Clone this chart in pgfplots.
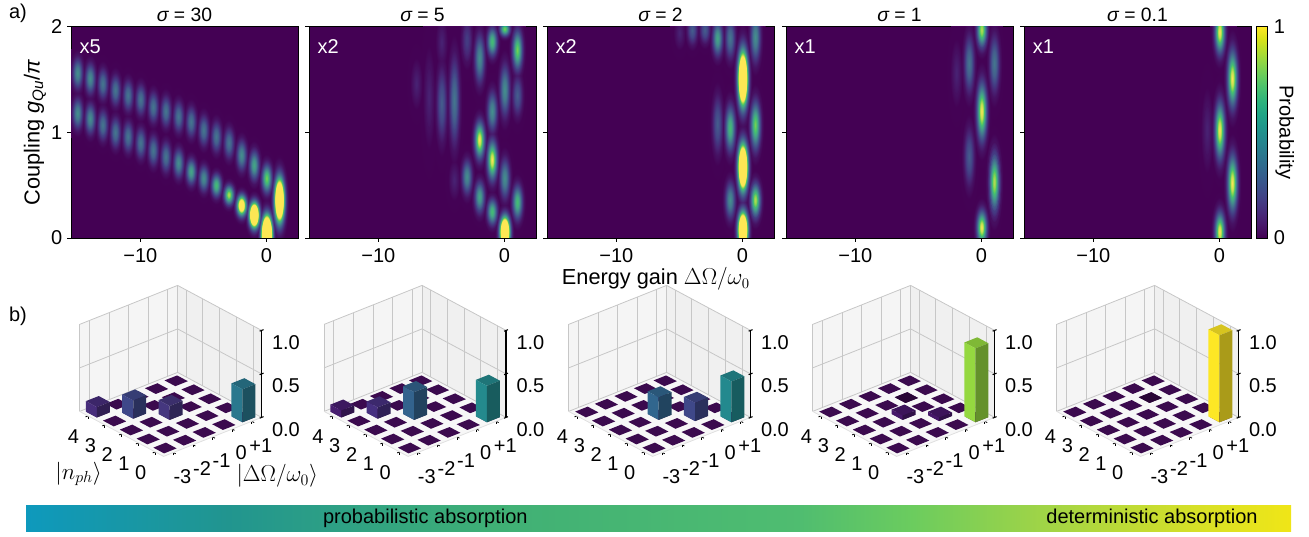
\documentclass[border=0pt]{standalone}
\usepackage{fontspec}
\setmainfont{Liberation Sans}
\usepackage{pgfplots}
\pgfplotsset{compat=1.18}
\newcommand\fs{\fontsize{15pt}{17pt}\selectfont}
\newcommand\fst{\fontsize{14.5pt}{17pt}\selectfont}
\newcommand\fsl{\fontsize{16.3pt}{18pt}\selectfont}
\newcommand\fsm{\fontsize{18pt}{20pt}\selectfont}
\definecolor{vbg}{rgb}{.267,.005,.329}
\definecolor{tile}{HTML}{3B0A4E}
\definecolor{tiled}{HTML}{290636}
% Viridis Gaussian blob shadings, one per amplitude level
\newcommand\makeblob[2]{%
  \pgfmathsetmacro\A{#2}%
  \pgfmathsetmacro\Ap{#2+0.001}%
  \ifdim\A pt>1pt \gdef\spec{rgb(0bp)=(.993,.906,.144);}\else\gdef\spec{}\fi
  \foreach \t/\c in {1.0/{.993,.906,.144},.9/{.741,.873,.150},.8/{.478,.821,.318},.7/{.267,.749,.441},.6/{.135,.659,.518},.5/{.128,.567,.551},.4/{.164,.471,.558},.3/{.207,.372,.553},.2/{.254,.265,.530},.1/{.283,.141,.458},.05/{.275,.070,.390},.012/{.267,.010,.335}}{%
    \ifdim\t pt<\Ap pt
      \pgfmathsetmacro\r{20*sqrt(abs(ln(\A/\t)))}%
      \xdef\spec{\spec rgb(\r bp)=(\c);}%
    \fi}%
  \edef\tmp{\noexpand\pgfdeclareradialshading{blob#1}{\noexpand\pgfpointorigin}{\spec rgb(50bp)=(.267,.005,.329)}}\tmp}
\makeblob{10}{.1}\makeblob{20}{.2}\makeblob{30}{.3}\makeblob{40}{.4}\makeblob{50}{.5}
\makeblob{60}{.6}\makeblob{70}{.7}\makeblob{80}{.8}\makeblob{90}{.9}\makeblob{100}{1}
\makeblob{150}{1.5}\makeblob{250}{2.5}\makeblob{400}{4}
\pgfdeclareplotmark{blob}{%
  \pgfscope
  \pgfmathsetmacro\cl{(-15.5-\blobx)*9.458}%
  \pgfmathsetmacro\cr{(2.5-\blobx)*9.458}%
  \pgfmathsetmacro\cb{(0-\bloby)*79.25}%
  \pgfmathsetmacro\ct{(2-\bloby)*79.25}%
  \pgfpathrectanglecorners{\pgfpoint{\cl pt}{\cb pt}}{\pgfpoint{\cr pt}{\ct pt}}%
  \pgfusepath{clip}%
  \pgfsetblendmode{lighten}%
  \pgfmathsetmacro\ys{\blobw*4.35}%
  \pgftransformxscale{.157}\pgftransformyscale{\ys}%
  \pgflowlevelsynccm
  \pgfuseshading{blob\bloba}%
  \endpgfscope}
\pgfdeclarehorizontalshading{absbar}{100bp}{rgb(0bp)=(.055,.60,.74);rgb(25bp)=(.055,.60,.74);rgb(33bp)=(.13,.585,.56);rgb(43.5bp)=(.25,.69,.46);rgb(55.5bp)=(.31,.74,.44);rgb(60bp)=(.42,.80,.37);rgb(65bp)=(.62,.83,.28);rgb(71.5bp)=(.85,.88,.15);rgb(75bp)=(.94,.90,.09);rgb(100bp)=(.94,.90,.09)}
\pgfplotsset{
  heat/.style={scale only axis,width=170.25pt,height=158.5pt,xmin=-15.5,xmax=2.5,ymin=0,ymax=2,
    xtick={-10,0},xticklabels={−10,0},ytick={0,1,2},yticklabels={},
    tick align=outside,xtick pos=bottom,ytick pos=left,major tick length=3pt,
    axis background/.style={fill=vbg},axis on top,
    tick style={black,line width=.7pt},axis line style={line width=.7pt},
    title style={yshift=-5.5pt},xticklabel style={yshift=-1pt},
    every tick label/.append style={font=\fs},
    label style={font=\fsl},title style={font=\fst},
    point meta min=0,point meta max=1},
  blobs/.style={scatter,only marks,mark=blob,
    visualization depends on={value \thisrow{a}\as\bloba},
    visualization depends on={value \thisrow{w}\as\blobw},
    visualization depends on={value \thisrow{x}\as\blobx},
    visualization depends on={value \thisrow{y}\as\bloby}},
  bars/.style={scale only axis,disabledatascaling,anchor=origin,clip=false,
    x={(14.7pt,5.85pt)},y={(-12.6pt,6.75pt)},z={(0pt,65.25pt)},
    xmin=-.5,xmax=4.5,ymin=-.5,ymax=4.5,zmin=0,zmax=1,
    xtick={0,...,4},ytick={0,...,4},ztick={0,.5,1},
    xticklabels={-3,-2,-1,0,+1},yticklabels={0,1,2,3,4},zticklabels={0.0,0.5,1.0},
    axis line style={draw=none},tick align=outside,major tick length=2pt,
    tick style={black,line width=.6pt},
    every z tick/.append style={draw=none},
    xtick pos=left,ytick pos=left,zticklabel pos=right,
    every tick label/.append style={font=\fs},
    xticklabel style={anchor=center,xshift=5pt,yshift=-17pt},
    yticklabel style={anchor=center,xshift=-9pt,yshift=-15pt},
    zticklabel style={anchor=center,xshift=16.5pt,yshift=-8pt}}}
\newcommand\tile[3]{%
  \pgfmathsetmacro\ea{#1-.32}\pgfmathsetmacro\eb{#1+.32}%
  \pgfmathsetmacro\na{#2-.32}\pgfmathsetmacro\nb{#2+.32}%
  \edef\tmp{\noexpand\addplot3[fill=#3,draw=none] coordinates {(\ea,\na,0)(\eb,\na,0)(\eb,\nb,0)(\ea,\nb,0)};}\tmp}
\newcommand\wallgrid{%
  \addplot3[fill=black!3,draw=none] coordinates {(-.5,-.5,0)(4.5,-.5,0)(4.5,4.5,0)(-.5,4.5,0)};
  \addplot3[fill=black!4,draw=none] coordinates {(-.5,4.5,0)(4.5,4.5,0)(4.5,4.5,1)(-.5,4.5,1)};
  \addplot3[fill=black!6,draw=none] coordinates {(4.5,4.5,0)(4.5,-.5,0)(4.5,-.5,1)(4.5,4.5,1)};
  \pgfplotsforeachungrouped \k in {0,1,2,3,4}{%
    \edef\tmp{\noexpand\addplot3[black!22,line width=.6pt] coordinates {(\k,4.5,0)(\k,4.5,1)};
      \noexpand\addplot3[black!22,line width=.6pt] coordinates {(4.5,\k,0)(4.5,\k,1)};}\tmp}
  \pgfplotsforeachungrouped \k in {0,.5,1}{%
    \edef\tmp{\noexpand\addplot3[black!22,line width=.6pt] coordinates {(-.5,4.5,\k)(4.5,4.5,\k)(4.5,-.5,\k)};}\tmp}
  \addplot3[black!22,line width=.6pt] coordinates {(4.5,4.5,0)(4.5,4.5,1)};
  \addplot3[black!22,line width=.6pt] coordinates {(-.5,4.5,0)(-.5,4.5,1)};
  \addplot3[black!12,line width=.6pt] coordinates {(-.5,4.5,0)(-.5,-.5,0)(4.5,-.5,0)};
  \pgfplotsforeachungrouped \e in {0,1,2,3,4}{%
    \pgfplotsforeachungrouped \n in {0,1,2,3,4}{\tile{\e}{\n}{tile}}}%
  \addplot3[draw=black,line width=1pt] coordinates {(4.5,-.5,0)(4.5,-.5,1)};
  \addplot3[draw=black,line width=.8pt] coordinates {(4.4,-.5,0)(4.6,-.5,0)};
  \addplot3[draw=black,line width=.8pt] coordinates {(4.4,-.5,.5)(4.6,-.5,.5)};
  \addplot3[draw=black,line width=.8pt] coordinates {(4.4,-.5,1)(4.6,-.5,1)};}
% bar: energy index, photon number, height, colour
\newcommand\barbox[4]{%
  \pgfmathsetmacro\ea{#1-.33}\pgfmathsetmacro\eb{#1+.33}%
  \pgfmathsetmacro\na{#2-.33}\pgfmathsetmacro\nb{#2+.33}%
  \definecolor{bar#4}{HTML}{#4}%
  \edef\tmp{\noexpand\addplot3[fill=bar#4!85!black,draw=none] coordinates {(\ea,\na,#3)(\eb,\na,#3)(\eb,\nb,#3)(\ea,\nb,#3)};
    \noexpand\addplot3[fill=bar#4,draw=none] coordinates {(\ea,\na,0)(\ea,\nb,0)(\ea,\nb,#3)(\ea,\na,#3)};
    \noexpand\addplot3[fill=bar#4!67!black,draw=none] coordinates {(\ea,\na,0)(\eb,\na,0)(\eb,\na,#3)(\ea,\na,#3)};}\tmp}
\begin{document}
\begin{tikzpicture}
\path[use as bounding box] (0,0) rectangle (981.75pt,402pt);
\tikzset{every node/.append style={font=\fs}}
% ---------- panel a, sigma = 30
\begin{axis}[heat,at={(53.25pt,223.5pt)},anchor=south west,
  title={{\itshape σ} = 30},yticklabels={0,1,2},
  ylabel={Coupling {\itshape g\textsubscript{Qu}}/{\itshape π}},ylabel style={yshift=-3pt}]
\addplot[blobs] table {
x y a w
-15 1.56 50 .105
-14 1.51 50 .105
-13 1.46 40 .105
-12 1.40 40 .105
-11 1.35 40 .105
-10 1.31 40 .105
-9 1.24 40 .105
-8 1.20 40 .105
-7 1.15 40 .105
-6 1.10 40 .105
-5 1.02 40 .105
-4 .96 40 .105
-3 .90 40 .105
-2 .785 50 .105
-1 .69 60 .105
0 .565 80 .10
1 .36 250 .16
-15 1.18 50 .105
-14 1.13 50 .105
-13 1.07 40 .105
-12 1.00 40 .105
-11 .96 40 .105
-10 .90 40 .105
-9 .83 40 .105
-8 .77 40 .105
-7 .71 50 .10
-6 .63 60 .09
-5 .565 50 .09
-4 .50 70 .08
-3 .41 90 .07
-2 .31 150 .075
-1 .22 250 .09
0 .03 400 .13
};
\node[white] at (rel axis cs:.085,.905) {x5};
\end{axis}
% ---------- sigma = 5
\begin{axis}[heat,at={(231.75pt,223.5pt)},anchor=south west,
  title={{\itshape σ} = 5}]
\addplot[blobs] table {
x y a w
1 1.78 80 .14
1 1.35 30 .14
1 .34 70 .12
0 1.98 80 .05
0 1.40 50 .18
0 .565 50 .14
0 .06 250 .11
-1 1.86 70 .10
-1 1.20 50 .14
-1 .74 100 .14
-1 .25 70 .09
-2 1.70 50 .17
-2 .93 100 .13
-2 .39 60 .11
-3 1.87 20 .15
-3 .58 50 .12
-4 1.30 40 .30
-4 .55 10 .12
-5 1.27 30 .25
-5 1.85 10 .15
-6 1.33 10 .30
-7 1.46 10 .15
};
\node[white] at (rel axis cs:.085,.905) {x2};
\end{axis}
% ---------- sigma = 2
\begin{axis}[heat,at={(410.25pt,223.5pt)},anchor=south west,
  title={{\itshape σ} = 2},
  xlabel={Energy gain $\Delta\Omega/\omega_0$},xlabel style={xshift=-3.5pt,yshift=3pt}]
\addplot[blobs] table {
x y a w
1 1.90 50 .17
1 1.07 80 .17
1 .36 90 .12
0 1.51 250 .20
0 .675 250 .17
0 .08 250 .13
-1 1.89 40 .14
-1 1.04 70 .16
-1 .36 50 .13
-2 1.89 60 .12
-2 1.08 30 .20
-3 1.97 30 .09
-4 1.97 30 .10
-5 1.94 10 .10
};
\node[white] at (rel axis cs:.085,.905) {x2};
\end{axis}
% ---------- sigma = 1
\begin{axis}[heat,at={(589.5pt,223.5pt)},anchor=south west,
  title={{\itshape σ} = 1}]
\addplot[blobs] table {
x y a w
1 1.65 40 .20
1 .53 90 .20
0 1.97 90 .12
0 1.20 100 .20
0 .10 100 .12
-1 1.65 40 .20
-1 .77 30 .20
-2 1.56 10 .20
};
\node[white] at (rel axis cs:.085,.905) {x1};
\end{axis}
% ---------- sigma = 0.1
\begin{axis}[heat,at={(768pt,223.5pt)},anchor=south west,
  title={{\itshape σ} = 0.1},colormap/viridis,colorbar,
  colorbar style={at={(parent axis.north east)},anchor=north west,xshift=-4.5pt,
    width=8.5pt,ytick={0,1},yticklabels={0,1},major tick length=2pt,
    tick style={black,line width=.6pt},axis line style={line width=.4pt},
    every tick label/.append style={font=\fs},yticklabel style={xshift=1pt},
    ylabel={Probability},ylabel style={font=\fs,rotate=180,yshift=-14pt}}]
\addplot[blobs] table {
x y a w
1 1.51 100 .20
1 .52 100 .20
0 1.95 100 .15
0 1.02 100 .20
0 .06 100 .14
-1 1.02 10 .25
};
\node[white] at (rel axis cs:.085,.905) {x1};
\end{axis}
% ---------- panel b
\begin{axis}[bars,at={(123.75pt,66pt)}]
\wallgrid
\barbox{0}{4}{.12}{472D7B}
\barbox{1}{3}{.21}{3F4889}
\barbox{2}{2}{.16}{45377F}
\barbox{4}{0}{.38}{2A788E}
\end{axis}
\begin{axis}[bars,at={(307.1pt,66pt)}]
\wallgrid
\barbox{0}{4}{.08}{471E70}
\barbox{1}{3}{.13}{463080}
\barbox{2}{2}{.32}{33638D}
\barbox{4}{0}{.42}{248A8D}
\end{axis}
\begin{axis}[bars,at={(490.5pt,66pt)}]
\wallgrid
\barbox{2}{2}{.26}{31668E}
\barbox{3}{1}{.21}{3F4889}
\barbox{4}{0}{.47}{23898E}
\end{axis}
\begin{axis}[bars,at={(673.5pt,66pt)}]
\wallgrid
\tile{3}{3}{tiled}
\barbox{2}{2}{.05}{46186A}
\barbox{3}{1}{.04}{46186A}
\barbox{4}{0}{.85}{95D840}
\end{axis}
\begin{axis}[bars,at={(856.5pt,66pt)}]
\wallgrid
\tile{3}{3}{tiled}
\barbox{4}{0}{1.0}{FDE725}
\end{axis}
% ---------- texts and gradient bar
\node at (13.5pt,392pt) {a)};
\node at (13.5pt,165pt) {b)};
\node[font=\fsm] at (59pt,46.5pt) {$|n_{ph}\rangle$};
\node[font=\fsm] at (208pt,45pt) {$|\Delta\Omega/\omega_0\rangle$};
\path[shading=absbar] (19.5pt,3.75pt) rectangle (968.25pt,23.25pt);
\node at (319pt,13pt) {probabilistic absorption};
\node at (864pt,13pt) {deterministic absorption};
\end{tikzpicture}
\end{document}
